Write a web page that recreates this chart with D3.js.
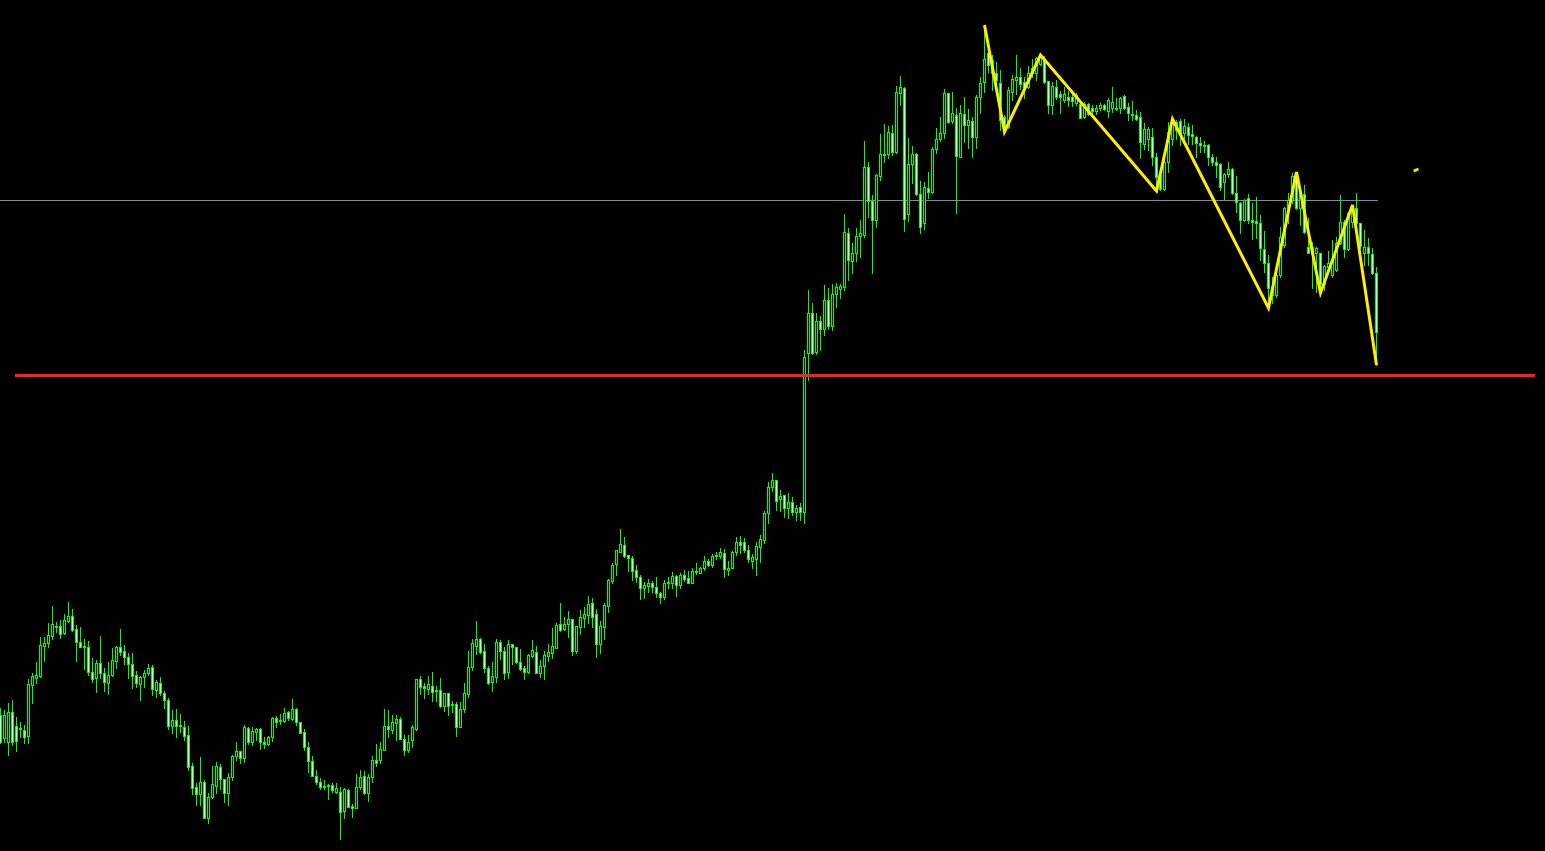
<!DOCTYPE html>
<html><head><meta charset="utf-8">
<script src="https://cdn.jsdelivr.net/npm/d3@7/dist/d3.min.js"></script>
<style>html,body{margin:0;padding:0;background:#000;overflow:hidden}</style>
</head><body><svg id="c" width="1545" height="851"></svg>
<script>
const opens=[285,262,258,288,274,271,270,264,315,322,
324,354,357,364,374,374,367,379,384,371,
358,354,353,328,322,337,327,317,325,339,
353,349,343,336,325,316,323,327,333,310,
317,307,300,274,280,275,273,265,234,213,
206,218,182,203,214,233,221,207,223,244,
249,242,272,258,268,271,258,256,263,282,
280,279,288,281,291,278,268,253,239,224,
218,214,214,215,208,208,189,210,194,192,
213,224,207,223,240,240,250,274,270,277,
281,261,250,260,271,321,314,311,314,310,
310,294,307,296,296,273,291,306,333,354,
361,349,332,318,323,358,349,328,356,353,
338,332,328,344,348,327,334,344,347,352,
376,371,376,381,349,373,382,385,397,386,
356,373,394,419,436,448,455,445,442,430,
423,412,414,417,413,407,403,417,417,424,
415,425,422,417,428,427,432,439,435,444,
444,447,430,432,448,458,458,450,439,441,
453,460,487,513,520,501,505,492,498,488,
493,488,647,687,648,679,671,700,674,706,
711,713,767,739,747,764,765,833,799,780,
824,845,846,867,848,907,912,786,836,846,
806,777,812,808,851,861,867,907,879,885,
843,886,875,879,863,903,918,947,940,927,
917,883,873,908,920,923,918,913,927,927,
936,941,919,895,913,906,900,903,903,897,
896,883,896,892,889,892,895,889,892,892,
892,904,893,886,885,883,856,861,863,843,
825,811,838,861,878,879,867,873,866,863,
857,855,855,843,838,836,818,826,831,807,
797,780,802,780,779,777,751,737,705,705,
725,755,792,800,827,792,806,753,753,747,
747,716,733,725,730,757,778,751,778,792,
777,747,753,746,727];
const highs=[292,290,297,300,283,278,275,321,327,338,
363,363,377,394,378,380,386,398,391,375,
373,361,359,342,340,364,332,338,352,354,
371,355,347,347,329,324,330,336,335,320,
323,309,302,290,291,286,279,274,237,217,
243,220,207,234,238,236,221,227,245,258,
249,275,273,273,272,272,263,264,283,284,
286,292,289,301,292,278,271,258,244,230,
222,220,216,217,217,213,212,211,196,226,
230,229,226,244,256,258,291,290,285,285,
283,265,265,275,321,324,317,324,328,314,
322,307,307,299,298,298,317,349,361,379,
362,356,334,338,361,360,353,360,356,353,
351,334,346,360,354,340,349,356,372,377,
397,383,389,381,374,390,393,404,402,391,
379,397,421,437,450,471,463,445,444,435,
425,418,421,419,423,408,420,423,428,425,
427,430,429,432,437,433,444,441,446,448,
452,451,439,449,463,464,462,455,446,458,
465,489,518,527,520,510,505,507,503,495,
497,650,710,697,687,684,715,712,716,717,
716,786,772,757,772,780,859,838,805,826,
866,876,874,875,914,924,913,862,854,847,
819,818,828,853,872,883,911,907,908,892,
895,903,891,883,905,923,975,960,945,938,
930,885,913,925,945,932,923,934,941,943,
945,944,919,918,920,909,913,909,910,907,
900,898,897,895,895,897,896,902,913,902,
903,905,897,899,890,888,877,873,872,847,
832,842,878,881,880,881,881,877,875,864,
863,859,856,846,843,837,827,838,832,824,
798,801,806,797,803,785,769,745,723,727,
773,793,807,827,828,813,815,782,758,753,
747,735,749,760,763,805,780,788,795,807,
777,770,762,752,733];
const lows=[257,258,245,255,249,263,257,257,297,317,
323,339,353,361,368,362,366,378,369,339,
353,331,325,318,308,322,309,306,324,332,
345,336,322,312,313,300,313,325,305,303,
305,292,271,267,263,268,260,230,206,195,
195,182,177,202,207,211,198,195,220,240,
237,238,256,255,260,251,252,255,259,273,
276,278,280,280,275,267,250,228,224,216,
211,211,201,208,207,161,182,193,183,192,
211,206,199,218,234,237,250,263,267,260,
261,245,248,253,270,306,302,306,299,299,
293,289,285,288,264,273,288,303,330,346,
347,328,316,309,318,341,321,322,336,337,
330,321,327,343,327,323,321,339,342,352,
369,370,363,345,347,366,373,377,373,343,
347,361,388,417,425,448,443,429,420,418,
401,402,408,408,403,397,401,412,412,404,
412,419,417,417,426,427,430,434,433,441,
442,423,425,432,445,447,448,438,432,425,
438,457,477,509,490,489,483,482,485,480,
480,477,620,646,646,650,665,671,670,693,
702,710,720,727,739,743,763,783,727,773,
820,838,842,845,847,895,769,779,817,805,
767,771,802,807,847,859,862,877,877,787,
843,858,852,843,852,887,908,928,910,905,
870,868,872,900,906,911,902,912,923,920,
935,917,887,886,901,887,898,894,894,895,
882,882,885,885,886,890,890,883,888,890,
887,891,880,880,880,842,851,850,835,809,
810,810,828,855,861,855,861,856,856,843,
848,848,835,835,823,810,801,823,806,788,
767,779,777,761,762,740,728,692,697,703,
723,753,777,797,791,775,767,747,712,708,
707,710,728,723,729,756,743,750,773,769,
752,735,735,726,635];
const closes=[258,285,288,258,259,272,263,316,324,325,
355,357,365,376,373,366,380,384,370,358,
353,353,328,321,337,327,318,325,340,353,
348,343,336,324,317,323,327,332,311,318,
307,300,274,280,274,274,264,233,212,206,
218,182,203,216,234,221,207,223,244,249,
242,273,258,269,271,258,256,263,282,278,
279,287,282,291,278,267,253,239,224,218,
213,213,215,210,212,188,211,193,192,213,
223,207,223,240,237,251,274,271,278,281,
261,250,258,273,321,313,312,316,308,309,
294,307,294,295,273,291,307,333,357,361,
348,332,317,324,358,349,327,356,353,338,
331,328,345,350,327,334,345,348,354,375,
370,376,381,349,374,383,386,396,383,356,
374,395,420,435,450,456,444,442,429,423,
412,415,417,413,407,403,417,418,424,415,
425,421,417,429,429,432,439,435,444,445,
448,431,432,448,458,455,450,441,443,454,
461,487,513,520,499,504,492,498,488,492,
488,643,687,647,679,671,700,674,706,713,
714,768,740,747,764,767,833,799,780,825,
846,846,868,848,908,913,781,836,846,806,
773,813,808,851,861,867,907,878,887,844,
887,875,880,863,903,917,941,935,927,920,
880,873,910,921,923,916,913,927,932,942,
943,918,895,914,903,903,906,900,899,905,
882,896,886,889,892,895,891,900,898,891,
902,892,887,885,881,858,871,871,843,823,
811,838,868,878,870,867,874,865,864,857,
855,854,843,838,835,813,826,831,807,798,
780,800,780,778,777,752,737,712,713,725,
763,792,800,824,792,808,768,747,747,752,
716,734,737,740,757,778,751,787,793,777,
754,753,747,727,668];
// ZigZag pivots: [bar index, price]
const zigzagIdx=[246,251,260,289,293,317,324,330,338,344];
const zigzagPrice=[975,868,945,809,881,692,828,707,795,635];
const supportLevel=625;
const bidLevel=800;
const markIdx=[353.3,354.5];
const markPrice=[829,831];

const W=1545,H=851;
const svg=d3.select('#c');
svg.append('rect').attr('width',W).attr('height',H).attr('fill','#000');
const n=opens.length;
const x=d3.scaleLinear().domain([0,n-1]).range([0,1376]);
const y=d3.scaleLinear().domain([1000,149]).range([0,851]);
const py=v=>Math.round(y(v));
const green='#00ff00';
const g=svg.append('g').attr('shape-rendering','crispEdges');
// bid line
g.append('rect').attr('x',0).attr('y',py(bidLevel)).attr('width',Math.round(x(n-1))+2).attr('height',1).attr('fill','#7d8da0');
const data=opens.map((o,i)=>({i,o,h:highs[i],l:lows[i],c:closes[i]}));
const cg=g.selectAll('g.cd').data(data).join('g').attr('class','cd');
cg.append('rect').attr('x',d=>Math.round(x(d.i))).attr('y',d=>py(d.h)).attr('width',1)
 .attr('height',d=>py(d.l)-py(d.h)+1).attr('fill',green);
cg.append('rect').attr('x',d=>Math.round(x(d.i))-1).attr('y',d=>py(Math.max(d.o,d.c))).attr('width',3)
 .attr('height',d=>py(Math.min(d.o,d.c))-py(Math.max(d.o,d.c))+1).attr('fill',green);
cg.filter(d=>py(Math.min(d.o,d.c))-py(Math.max(d.o,d.c))>=2).append('rect')
 .attr('x',d=>Math.round(x(d.i))).attr('y',d=>py(Math.max(d.o,d.c))+1).attr('width',1)
 .attr('height',d=>py(Math.min(d.o,d.c))-py(Math.max(d.o,d.c))-1)
 .attr('fill',d=>d.c>d.o?'#000000':'#ffffff');
// zigzag
const zz=zigzagIdx.map((v,k)=>[v,zigzagPrice[k]]);
const line=d3.line().x(d=>x(d[0])+0.5).y(d=>y(d[1]));
svg.append('path').attr('d',line(zz)).attr('fill','none').attr('stroke','#ffee00').attr('stroke-width',3).attr('stroke-linejoin','miter');
const mk=markIdx.map((v,k)=>[v,markPrice[k]]);
svg.append('path').attr('d',line(mk)).attr('fill','none').attr('stroke','#ffee00').attr('stroke-width',2.5);
// support line
svg.append('rect').attr('x',15).attr('y',py(supportLevel)-1).attr('width',1520).attr('height',3).attr('fill','#ff1e1e').attr('shape-rendering','crispEdges');
</script></body></html>
